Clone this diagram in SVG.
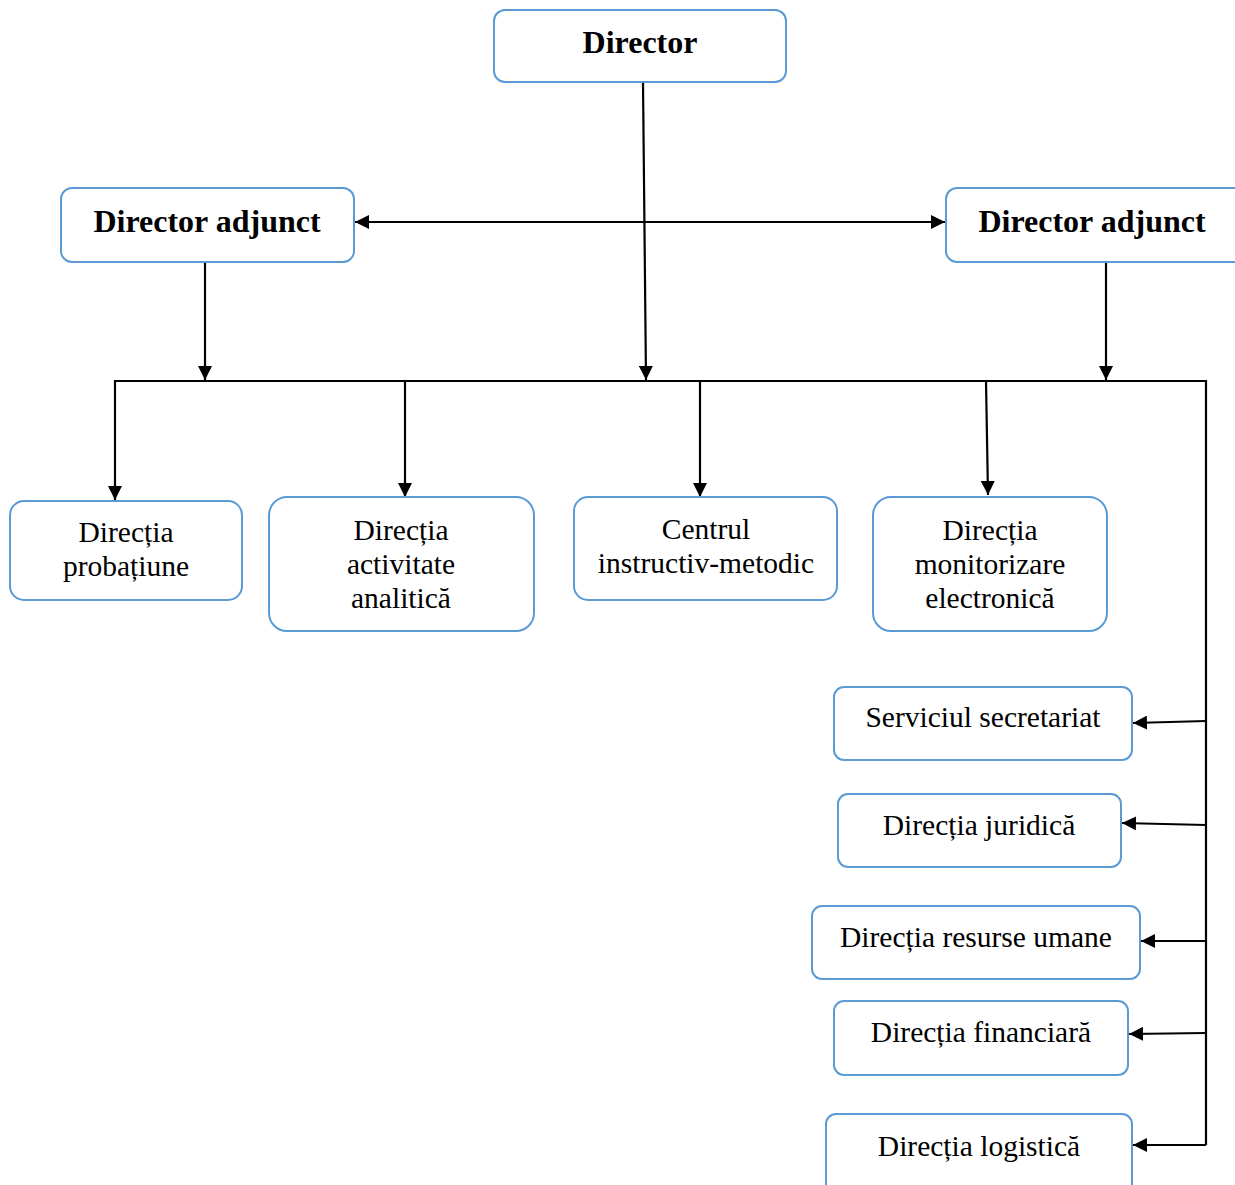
<svg xmlns="http://www.w3.org/2000/svg" width="1235" height="1185" viewBox="0 0 1235 1185">
<defs>
<style>
.box{fill:#fff;stroke:#5B9BD5;stroke-width:2}
.t{font-family:"Liberation Serif","Times New Roman",serif;font-size:29.5px;fill:#000;text-anchor:middle}
.b{font-family:"Liberation Serif","Times New Roman",serif;font-size:32px;font-weight:bold;fill:#000;text-anchor:middle}
.c{fill:none;stroke:#000;stroke-width:2.2}
</style>
<marker id="ah" viewBox="0 0 14 14" refX="14" refY="7" markerWidth="14" markerHeight="14" markerUnits="userSpaceOnUse" orient="auto-start-reverse">
<path d="M0,0 L14,7 L0,14 Z" fill="#000"/>
</marker>
</defs>
<rect width="1235" height="1185" fill="#fff"/>
<g id="connectors">
<line class="c" x1="643" y1="82" x2="646" y2="380" marker-end="url(#ah)"/>
<line class="c" x1="355" y1="222" x2="945" y2="222" marker-start="url(#ah)" marker-end="url(#ah)"/>
<line class="c" x1="205" y1="262" x2="205" y2="380" marker-end="url(#ah)"/>
<line class="c" x1="1106" y1="262" x2="1106" y2="380" marker-end="url(#ah)"/>
<polyline class="c" points="115,381 1206,381 1206,1145"/>
<line class="c" x1="115" y1="380" x2="115" y2="500" marker-end="url(#ah)"/>
<line class="c" x1="405" y1="381" x2="405" y2="497" marker-end="url(#ah)"/>
<line class="c" x1="700" y1="381" x2="700" y2="497" marker-end="url(#ah)"/>
<line class="c" x1="986" y1="381" x2="988" y2="495" marker-end="url(#ah)"/>
<line class="c" x1="1206" y1="721" x2="1133" y2="723" marker-end="url(#ah)"/>
<line class="c" x1="1206" y1="825" x2="1122" y2="823" marker-end="url(#ah)"/>
<line class="c" x1="1206" y1="941" x2="1141" y2="941" marker-end="url(#ah)"/>
<line class="c" x1="1206" y1="1033" x2="1129" y2="1034" marker-end="url(#ah)"/>
<line class="c" x1="1206" y1="1145" x2="1133" y2="1145" marker-end="url(#ah)"/>
</g>
<g id="director"><rect class="box" x="494" y="10" width="292" height="72" rx="11"/><text class="b" x="640" y="53">Director</text></g>
<g id="adjunct-left"><rect class="box" x="61" y="188" width="293" height="74" rx="11"/><text class="b" x="207" y="232">Director adjunct</text></g>
<g id="adjunct-right"><rect class="box" x="946" y="188" width="300" height="74" rx="11"/><text class="b" x="1092" y="232">Director adjunct</text></g>
<g id="probatiune"><rect class="box" x="10" y="501" width="232" height="99" rx="14"/><text class="t" x="126" y="542">Direcția</text><text class="t" x="126" y="576">probațiune</text></g>
<g id="analitica"><rect class="box" x="269" y="497" width="265" height="134" rx="18"/><text class="t" x="401" y="540">Direcția</text><text class="t" x="401" y="574">activitate</text><text class="t" x="401" y="608">analitică</text></g>
<g id="centrul"><rect class="box" x="574" y="497" width="263" height="103" rx="14"/><text class="t" x="706" y="539">Centrul</text><text class="t" x="706" y="573">instructiv-metodic</text></g>
<g id="monitorizare"><rect class="box" x="873" y="497" width="234" height="134" rx="18"/><text class="t" x="990" y="540">Direcția</text><text class="t" x="990" y="574">monitorizare</text><text class="t" x="990" y="608">electronică</text></g>
<g id="secretariat"><rect class="box" x="834" y="687" width="298" height="73" rx="10"/><text class="t" x="983" y="727">Serviciul secretariat</text></g>
<g id="juridica"><rect class="box" x="838" y="794" width="283" height="73" rx="10"/><text class="t" x="979" y="835">Direcția juridică</text></g>
<g id="resurse"><rect class="box" x="812" y="906" width="328" height="73" rx="10"/><text class="t" x="976" y="947">Direcția resurse umane</text></g>
<g id="financiara"><rect class="box" x="834" y="1001" width="294" height="74" rx="10"/><text class="t" x="981" y="1042">Direcția financiară</text></g>
<g id="logistica"><rect class="box" x="826" y="1114" width="306" height="80" rx="10"/><text class="t" x="979" y="1156">Direcția logistică</text></g>
</svg>
